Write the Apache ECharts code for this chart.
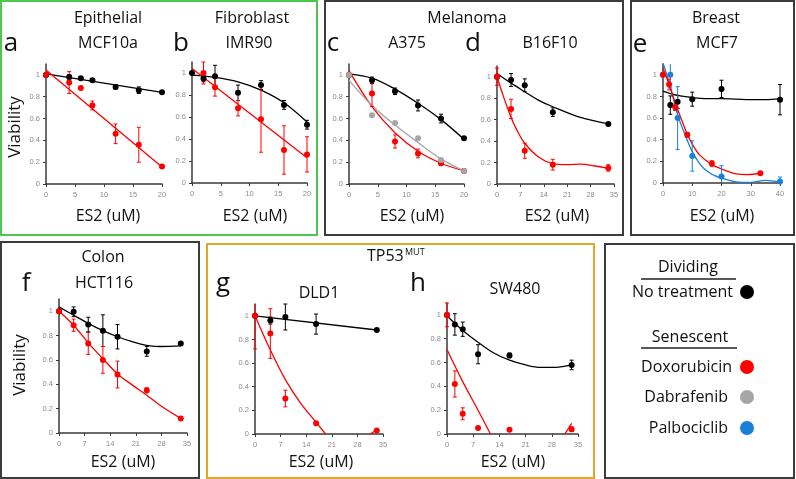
<!DOCTYPE html>
<html><head><meta charset="utf-8">
<script src="https://cdn.jsdelivr.net/npm/echarts@6/dist/echarts.min.js"></script>
<style>html,body{margin:0;padding:0;background:#fff}#c{width:796px;height:479px}</style>
</head><body><div id="c"></div>
<script>
// ================= DATA =================
// tick labels
const yTicks = [0, 0.2, 0.4, 0.6, 0.8, 1];
const xTicks20 = [0, 5, 10, 15, 20];
const xTicks35 = [0, 7, 14, 21, 28, 35];
const xTicks40 = [0, 10, 20, 30, 40];

// a  Epithelial MCF10a
const aX = [0, 4, 6, 8, 12, 16, 20];
const aBlack = [1.0, 0.98, 0.97, 0.95, 0.89, 0.86, 0.84];
const aBlackErr = [0, 0.02, 0.01, 0.01, 0.02, 0.03, 0.01];
const aRed = [1.0, 0.93, 0.88, 0.72, 0.46, 0.36, 0.16];
const aRedErr = [0, 0.1, 0, 0.04, 0.09, 0.16, 0.01];
const aFitX = [0, 20];
const aBlackFit = [1.01, 0.84];
const aRedFit = [1.045, 0.155];

// b  Fibroblast IMR90
const bX = [0, 2, 4, 8, 12, 16, 20];
const bBlack = [1.0, 0.95, 0.97, 0.82, 0.89, 0.71, 0.53];
const bBlackErr = [0, 0.03, 0.1, 0.07, 0.04, 0.04, 0.04];
const bRedX = [2, 4, 8, 12, 16, 20];
const bRed = [1.0, 0.87, 0.68, 0.58, 0.30, 0.26];
const bRedErr = [0.1, 0.08, 0.07, 0.3, 0.22, 0.16];
const bBlackFitX = [0, 4, 8, 12, 16, 20];
const bBlackFit = [0.98, 0.96, 0.92, 0.845, 0.73, 0.555];
const bRedFitX = [0, 20];
const bRedFit = [1.04, 0.23];

// c  Melanoma A375
const cX = [0, 4, 8, 12, 16, 20];
const cBlack = [1.0, 0.95, 0.85, 0.72, 0.60, 0.42];
const cBlackErr = [0, 0.03, 0.03, 0.05, 0.04, 0.01];
const cRed = [1.0, 0.83, 0.39, 0.28, 0.19, 0.12];
const cRedErr = [0, 0.12, 0.06, 0.04, 0.02, 0.02];
const cGrey = [1.0, 0.63, 0.56, 0.42, 0.22, 0.12];
const cGreyErr = [0, 0, 0, 0, 0.01, 0.01];
const cBlackFit = [1.01, 0.97, 0.87, 0.74, 0.59, 0.41];
const cRedFit = [1.04, 0.71, 0.47, 0.30, 0.19, 0.12];
const cGreyFit = [0.95, 0.72, 0.54, 0.38, 0.23, 0.12];

// d  Melanoma B16F10
const dX = [0, 4.2, 8.3, 16.7, 33.3];
const dBlack = [1.0, 0.97, 0.92, 0.67, 0.56];
const dBlackErr = [0, 0.06, 0.06, 0.04, 0.01];
const dRed = [1.0, 0.70, 0.31, 0.18, 0.15];
const dRedErr = [0.08, 0.09, 0.07, 0.05, 0.03];
const dBlackFitX = [0, 4.2, 8.3, 12.5, 16.7, 25, 33.3];
const dBlackFit = [1.03, 0.94, 0.86, 0.78, 0.72, 0.62, 0.56];
const dRedFitX = [0, 2, 4.2, 6, 8.3, 12.5, 16.7, 21, 25, 29, 33.3];
const dRedFit = [1.0, 0.81, 0.62, 0.50, 0.38, 0.25, 0.19, 0.18, 0.185, 0.17, 0.145];

// e  Breast MCF7
const eBlackX = [2.5, 5, 10, 20, 40];
const eBlack = [0.72, 0.75, 0.775, 0.87, 0.77];
const eBlackErr = [0.085, 0.06, 0.065, 0.08, 0.14];
const eRedX = [0, 2.1, 4.2, 8.3, 16.7, 33.3];
const eRed = [1.0, 0.91, 0.70, 0.445, 0.18, 0.09];
const eRedErr = [0, 0.05, 0.03, 0.02, 0.025, 0.01];
const eBlueX = [0, 2.5, 5, 10, 20, 40];
const eBlue = [1.0, 1.0, 0.6, 0.25, 0.06, 0.015];
const eBlueErr = [0, 0.12, 0.29, 0.14, 0.1, 0.04];
const eBlackFitX = [0, 5, 10, 15, 20, 25, 30, 35, 40];
const eBlackFit = [0.85, 0.81, 0.79, 0.78, 0.78, 0.775, 0.77, 0.77, 0.78];
const eRedFitX = [0, 2.1, 4.2, 6, 8.3, 10, 12.5, 16.7, 20, 25, 29, 33.3];
const eRedFit = [1.06, 0.91, 0.74, 0.61, 0.45, 0.36, 0.26, 0.17, 0.13, 0.085, 0.078, 0.09];
const eBlueFitX = [0, 2.5, 5, 7.5, 10, 12.5, 15, 17.5, 20, 25, 30, 35, 40];
const eBlueFit = [1.11, 0.89, 0.63, 0.45, 0.29, 0.18, 0.11, 0.07, 0.045, 0.01, 0.005, 0.025, 0.01];

// f  Colon HCT116
const fX = [0, 4, 8, 12, 16, 24, 33.3];
const fBlack = [1.0, 0.995, 0.89, 0.84, 0.79, 0.67, 0.735];
const fBlackErr = [0, 0.04, 0.06, 0.13, 0.1, 0.04, 0.01];
const fRed = [1.0, 0.885, 0.735, 0.6, 0.48, 0.35, 0.12];
const fRedErr = [0, 0.05, 0.09, 0.11, 0.11, 0.02, 0.01];
const fFitX = [0, 4, 8, 12, 16, 20, 24, 28, 33.3];
const fBlackFit = [1.035, 0.967, 0.9, 0.84, 0.79, 0.75, 0.72, 0.71, 0.715];
const fRedFit = [1.0, 0.885, 0.74, 0.61, 0.485, 0.395, 0.31, 0.22, 0.12];

// g  TP53 MUT DLD1
const gX = [0, 4.2, 8.3, 16.7, 33.3];
const gBlack = [1.0, 0.96, 0.99, 0.93, 0.88];
const gBlackErr = [0, 0.03, 0.11, 0.085, 0];
const gRed = [1.0, 0.85, 0.30, 0.09, 0.03];
const gRedErr = [0.28, 0.21, 0.07, 0, 0];
const gBlackFitX = [0, 33.3];
const gBlackFit = [1.0, 0.88];
const gRedFitX = [0, 4.2, 8.3, 12.5, 16.7, 19.3];
const gRedFit = [1.0, 0.71, 0.46, 0.26, 0.10, 0];
const gRedTailX = [31.5, 33.3];
const gRedTail = [0, 0.035];

// h  TP53 MUT SW480
const hX = [0, 2.1, 4.2, 8.3, 16.7, 33.3];
const hBlack = [1.0, 0.92, 0.88, 0.67, 0.66, 0.58];
const hBlackErr = [0, 0.09, 0.06, 0.08, 0.02, 0.04];
const hRed = [1.0, 0.42, 0.17, 0.05, 0.035, 0.04];
const hRedErr = [0.1, 0.11, 0.05, 0, 0, 0.02];
const hBlackFitX = [0, 2.1, 4.2, 8.3, 12.5, 16.7, 21, 25, 29, 33.3];
const hBlackFit = [0.99, 0.93, 0.87, 0.77, 0.68, 0.62, 0.58, 0.56, 0.56, 0.58];
const hRedFitX = [0, 4.2, 8.3, 11.6];
const hRedFit = [0.71, 0.44, 0.2, 0];
const hRedTailX = [31.5, 33.3];
const hRedTail = [0, 0.09];

// ================= STYLE / LAYOUT =================
const RED = '#ff0000', BLACK = '#000000', GREY = '#a6a6a6', BLUE = '#1a7fd6';
const FONT = '"Open Sans", "Noto Sans", sans-serif';

const grids = [
  {left: 46, top: 64, width: 116, height: 120},
  {left: 192, top: 62, width: 115, height: 121},
  {left: 349, top: 64, width: 115, height: 120},
  {left: 497, top: 66, width: 117, height: 118},
  {left: 663, top: 64, width: 117, height: 119},
  {left: 59, top: 299, width: 128, height: 134},
  {left: 255, top: 304, width: 128, height: 130},
  {left: 447, top: 303, width: 131, height: 131}
];
const xTickSets = [xTicks20, xTicks20, xTicks20, xTicks35, xTicks40, xTicks35, xTicks35, xTicks35];

const pairs = (xs, ys) => xs.map((x, i) => [x, ys[i]]);
const bars = (xs, ys, es) => xs.map((x, i) => [x, ys[i] - es[i], ys[i] + es[i]]).filter((d, i) => es[i] > 0);

const series = [];
function addGroup(g, xs, ys, es, fx, fy, color, smooth) {
  series.push({type: 'line', xAxisIndex: g, yAxisIndex: g, data: pairs(fx, fy), showSymbol: false,
    smooth: smooth ? 0.35 : false, lineStyle: {color, width: 1.3}, z: 2, silent: true, clip: true});
  series.push({type: 'custom', xAxisIndex: g, yAxisIndex: g, data: bars(xs, ys, es), z: 3, silent: true,
    encode: {x: 0, y: [1, 2]},
    renderItem(params, api) {
      const cs = params.coordSys;
      const clampY = v => Math.max(cs.y, Math.min(cs.y + cs.height, v));
      const p1 = api.coord([api.value(0), api.value(1)]);
      const p2 = api.coord([api.value(0), api.value(2)]);
      const y1 = clampY(p1[1]), y2 = clampY(p2[1]);
      const st = {stroke: color, lineWidth: 1};
      const ch = [{type: 'line', shape: {x1: p1[0], y1, x2: p1[0], y2}, style: st}];
      if (y1 === p1[1]) ch.push({type: 'line', shape: {x1: p1[0] - 2, y1, x2: p1[0] + 2, y2: y1}, style: st});
      if (y2 === p2[1]) ch.push({type: 'line', shape: {x1: p2[0] - 2, y1: y2, x2: p2[0] + 2, y2}, style: st});
      return {type: 'group', children: ch};
    }});
  series.push({type: 'scatter', xAxisIndex: g, yAxisIndex: g, data: pairs(xs, ys), symbolSize: 6,
    itemStyle: {color, opacity: 1}, z: 4, silent: true});
}
function addTail(g, fx, fy, color) {
  series.push({type: 'line', xAxisIndex: g, yAxisIndex: g, data: pairs(fx, fy), showSymbol: false,
    lineStyle: {color, width: 1.3}, z: 2, silent: true});
}

addGroup(0, aX, aBlack, aBlackErr, aFitX, aBlackFit, BLACK, false);
addGroup(0, aX, aRed, aRedErr, aFitX, aRedFit, RED, false);
addGroup(1, bX, bBlack, bBlackErr, bBlackFitX, bBlackFit, BLACK, true);
addGroup(1, bRedX, bRed, bRedErr, bRedFitX, bRedFit, RED, false);
addGroup(2, cX, cBlack, cBlackErr, cX, cBlackFit, BLACK, true);
addGroup(2, cX, cRed, cRedErr, cX, cRedFit, RED, true);
addGroup(2, cX, cGrey, cGreyErr, cX, cGreyFit, GREY, true);
addGroup(3, dX, dBlack, dBlackErr, dBlackFitX, dBlackFit, BLACK, true);
addGroup(3, dX, dRed, dRedErr, dRedFitX, dRedFit, RED, true);
addGroup(4, eBlackX, eBlack, eBlackErr, eBlackFitX, eBlackFit, BLACK, true);
addGroup(4, eBlueX, eBlue, eBlueErr, eBlueFitX, eBlueFit, BLUE, true);
addGroup(4, eRedX, eRed, eRedErr, eRedFitX, eRedFit, RED, true);
addGroup(5, fX, fBlack, fBlackErr, fFitX, fBlackFit, BLACK, true);
addGroup(5, fX, fRed, fRedErr, fFitX, fRedFit, RED, true);
addGroup(6, gX, gBlack, gBlackErr, gBlackFitX, gBlackFit, BLACK, false);
addGroup(6, gX, gRed, gRedErr, gRedFitX, gRedFit, RED, true);
addTail(6, gRedTailX, gRedTail, RED);
addGroup(7, hX, hBlack, hBlackErr, hBlackFitX, hBlackFit, BLACK, true);
addGroup(7, hX, hRed, hRedErr, hRedFitX, hRedFit, RED, true);
addTail(7, hRedTailX, hRedTail, RED);

const axisLine = {show: true, onZero: false, lineStyle: {color: '#3a3a3a', width: 1.5}};
const lbl = {color: '#8c8c8c', fontSize: 7.5, fontFamily: '"Liberation Sans", Arial, sans-serif'};

const xAxes = grids.map((g, i) => {
  const t = xTickSets[i];
  return {type: 'value', gridIndex: i, min: 0, max: t[t.length - 1], interval: t[1] - t[0],
    axisLine, splitLine: {show: false},
    axisTick: {show: true, length: 3, lineStyle: {color: '#3a3a3a'}, customValues: t},
    axisLabel: Object.assign({margin: 7, customValues: t, showMinLabel: true, showMaxLabel: true, hideOverlap: false}, lbl)};
});
const yAxes = grids.map((g, i) => ({type: 'value', gridIndex: i, min: 0, max: 1.1, interval: 0.1,
  axisLine, splitLine: {show: false},
  axisTick: {show: true, length: 3, lineStyle: {color: '#3a3a3a'}, customValues: yTicks},
  axisLabel: Object.assign({margin: 6, customValues: yTicks, hideOverlap: false,
    formatter: v => String(Math.round(v * 10) / 10)}, lbl)}));

// ================= GRAPHICS (frames & text) =================
const txt = (text, x, y, size, opts) => Object.assign({type: 'text', x, y, silent: true,
  style: {text, font: size + 'px ' + FONT, fill: '#111', align: 'center', verticalAlign: 'middle'}}, opts || {});
const rect = (x, y, w, h, stroke) => ({type: 'rect', silent: true, shape: {x, y, width: w, height: h},
  style: {fill: 'none', stroke, lineWidth: 2}});
const hline = (x1, x2, y) => ({type: 'line', silent: true, shape: {x1, y1: y, x2, y2: y}, style: {stroke: '#222', lineWidth: 1.3}});
const dot = (x, y, color) => ({type: 'circle', silent: true, shape: {cx: x, cy: y, r: 7}, style: {fill: color}});
const rtxt = (text, x, y) => {const t = txt(text, x, y, 16); t.style.align = 'right'; return t;};

const graphic = [
  rect(1, 1, 316, 234, '#4cc94c'),
  rect(325, 1, 298, 234, '#3c3c3c'),
  rect(631, 1, 163, 234, '#3c3c3c'),
  rect(1, 242, 198, 236, '#3c3c3c'),
  rect(207, 244, 387, 234, '#e3a626'),
  rect(605, 244, 189, 234, '#3c3c3c'),
  txt('Epithelial', 108, 18, 16), txt('MCF10a', 108, 43, 16),
  txt('Fibroblast', 252, 18, 16), txt('IMR90', 249, 43, 16),
  txt('Melanoma', 467, 18, 16), txt('A375', 407, 43, 16), txt('B16F10', 550, 43, 16),
  txt('Breast', 716, 18, 16), txt('MCF7', 717, 43, 16),
  txt('a', 11, 44, 26), txt('b', 181, 44, 26), txt('c', 333, 44, 26), txt('d', 473, 44, 26), txt('e', 640, 45, 26),
  txt('Viability', 15, 127, 17, {rotation: Math.PI / 2}),
  txt('ES2 (uM)', 108, 216, 16), txt('ES2 (uM)', 255, 216, 16), txt('ES2 (uM)', 412, 216, 16),
  txt('ES2 (uM)', 557, 216, 16), txt('ES2 (uM)', 722, 216, 16),
  txt('Colon', 103, 257, 16), txt('HCT116', 104, 283, 16),
  txt('f', 26, 284, 26), txt('g', 223, 284, 26), txt('h', 418, 284, 26),
  txt('Viability', 20, 365, 17, {rotation: Math.PI / 2}),
  txt('DLD1', 319, 293, 16), txt('SW480', 515, 289, 16),
  (() => {const t = txt('TP53', 367, 256, 16); t.style.align = 'left'; return t;})(),
  (() => {const t = txt('MUT', 405, 252, 9); t.style.align = 'left'; return t;})(),
  txt('ES2 (uM)', 123, 462, 16), txt('ES2 (uM)', 321, 462, 16), txt('ES2 (uM)', 513, 462, 16),
  txt('Dividing', 688, 267, 16), hline(641, 736, 279),
  rtxt('No treatment', 733, 292), dot(747, 292, BLACK),
  txt('Senescent', 690, 337, 16), hline(641, 737, 348),
  rtxt('Doxorubicin', 732, 367), dot(747, 367, RED),
  rtxt('Dabrafenib', 728, 397), dot(747, 397, GREY),
  rtxt('Palbociclib', 728, 428), dot(747, 428, BLUE)
];

const chart = echarts.init(document.getElementById('c'), null, {renderer: 'canvas'});
chart.setOption({
  animation: false,
  backgroundColor: '#ffffff',
  grid: grids.map(g => Object.assign({outerBoundsMode: 'none', containLabel: false}, g)),
  xAxis: xAxes,
  yAxis: yAxes,
  series,
  graphic
});
</script></body></html>
